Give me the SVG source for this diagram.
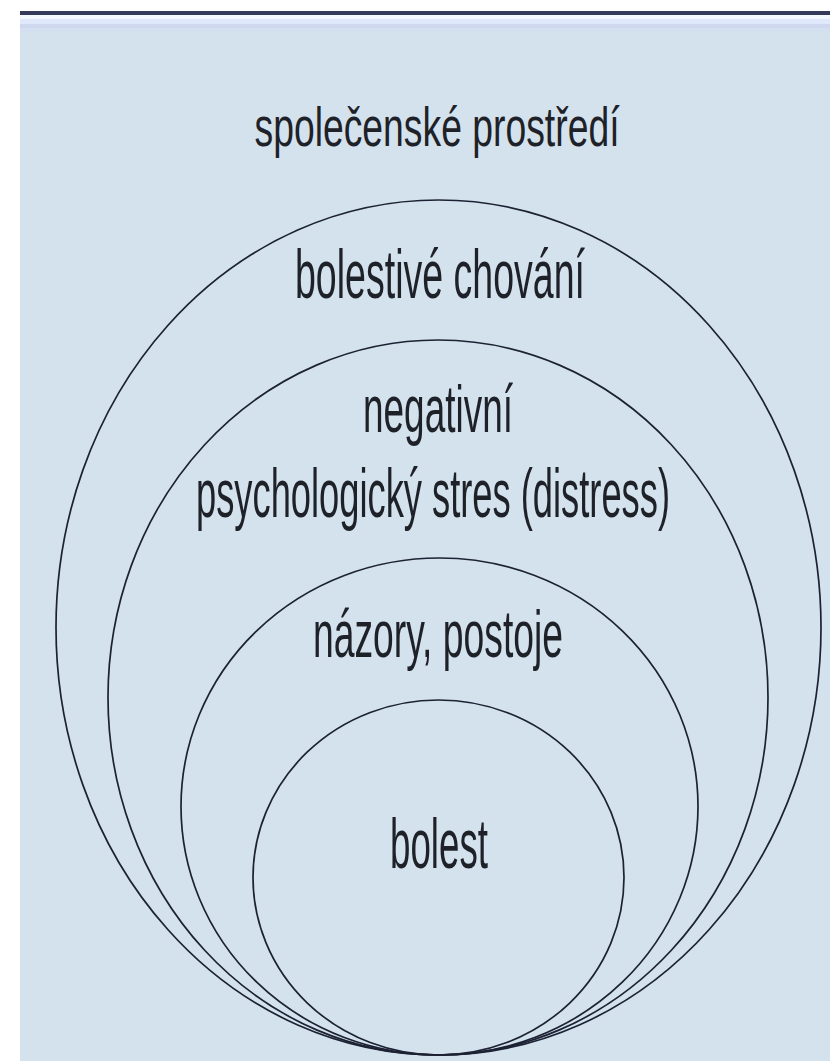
<svg xmlns="http://www.w3.org/2000/svg" width="830" height="1061" viewBox="0 0 830 1061">
  <style>
    .ring { fill: none; stroke: #1c2233; stroke-width: 1.7; }
    .lbl { font-family: "Liberation Sans", Arial, sans-serif; fill: #1e2228; text-anchor: middle; }
  </style>
  <rect x="0" y="0" width="830" height="1061" fill="#ffffff"/>
  <rect x="20" y="11" width="810" height="4" fill="#343b5a"/>
  <rect x="20" y="15" width="810" height="4" fill="#f2f8fc"/>
  <rect x="20" y="19" width="810" height="5" fill="#e0e8fc"/>
  <rect x="20" y="24" width="810" height="4" fill="#d0d8f0"/>
  <rect x="20" y="28" width="810" height="4" fill="#d4e0f0"/>
  <rect x="20" y="32" width="810" height="1029" fill="#d4e2ee"/>

  <g id="node-spolecenske-prostredi">
    <ellipse class="ring" cx="438.5" cy="627.5" rx="382.5" ry="427.5"/>
    <text class="lbl" x="437" y="146" font-size="56" textLength="365" lengthAdjust="spacingAndGlyphs">společenské prostředí</text>
  </g>
  <g id="node-bolestive-chovani">
    <ellipse class="ring" cx="438" cy="697.5" rx="330" ry="357.5"/>
    <text class="lbl" x="440" y="298" font-size="68" textLength="290" lengthAdjust="spacingAndGlyphs">bolestivé chování</text>
  </g>
  <g id="node-distress">
    <ellipse class="ring" cx="439.5" cy="806.5" rx="258.5" ry="248.5"/>
    <text class="lbl" x="438" y="432" font-size="66" textLength="150" lengthAdjust="spacingAndGlyphs">negativní</text>
    <text class="lbl" x="433" y="517" font-size="68" textLength="474" lengthAdjust="spacingAndGlyphs">psychologický stres (distress)</text>
  </g>
  <g id="node-nazory-postoje">
    <ellipse class="ring" cx="438.5" cy="877.5" rx="185.5" ry="177.5"/>
    <text class="lbl" x="438" y="657" font-size="67" textLength="250" lengthAdjust="spacingAndGlyphs">názory, postoje</text>
  </g>
  <g id="node-bolest">
    <text class="lbl" x="439" y="868" font-size="70" textLength="98" lengthAdjust="spacingAndGlyphs">bolest</text>
  </g>
  <g id="connectors"></g>
</svg>
